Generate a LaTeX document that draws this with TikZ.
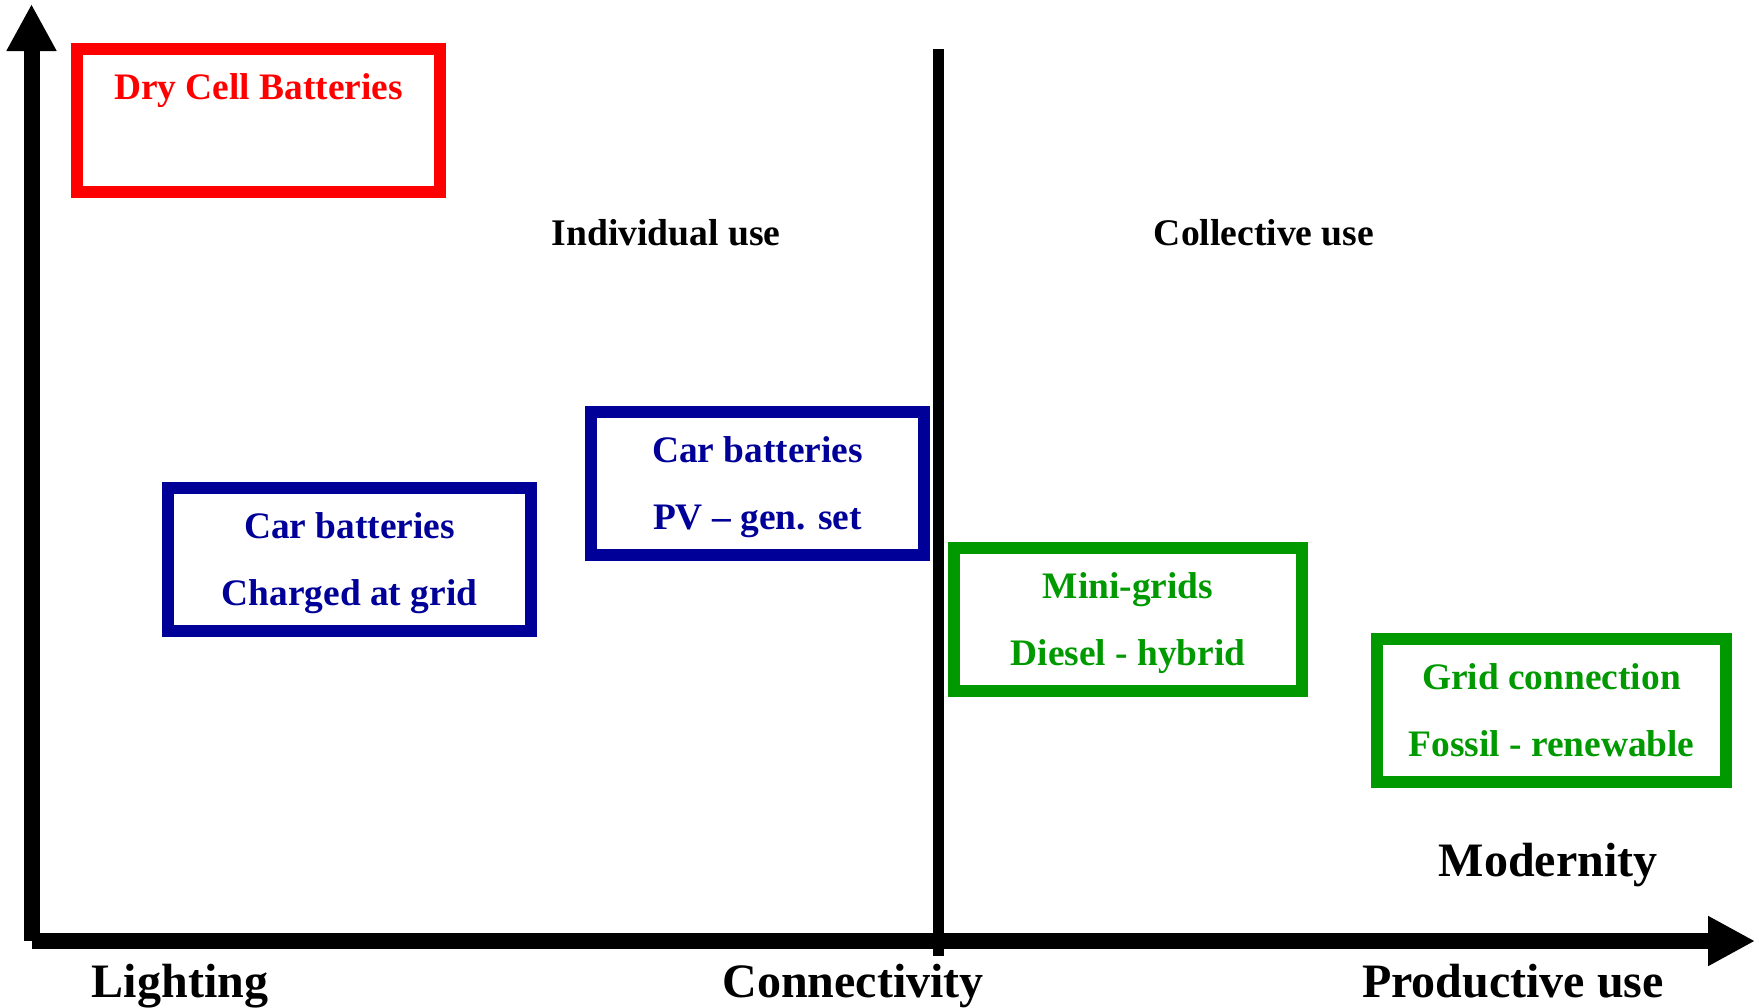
\documentclass[tikz,border=0pt]{standalone}
\usepackage{fontspec}
\setmainfont{Liberation Serif}
\usetikzlibrary{arrows.meta}
\definecolor{drycell}{RGB}{255,0,0}
\definecolor{carblue}{RGB}{0,0,153}
\definecolor{gridgreen}{RGB}{0,153,0}
\begin{document}
\begin{tikzpicture}[x=0.5pt,y=-0.5pt,
    techbox/.style = {draw, line width=6pt, inner sep=0pt, minimum height=71.5pt,
        align=center, text depth=-0.5pt, font=\bfseries\fontsize{18.7}{33.5}\selectfont},
    region/.style = {anchor=base, font=\bfseries\fontsize{18.8}{23}\selectfont},
    axislabel/.style = {anchor=base, font=\bfseries\fontsize{24}{28}\selectfont},
    axis/.style = {line width=8pt, -{Triangle[length=23.5pt,width=23.5pt]}}]

    \useasboundingbox (0,0) rectangle (1759,1007);

    \coordinate (origin) at (31.5,941);
    \coordinate (ytip) at (31.5,4);
    \coordinate (xtip) at (1755,941);
    \coordinate (divtop) at (938,49);
    \coordinate (divbot) at (938,956);

    \draw [axis] (origin) -- (ytip);
    \draw [axis] (origin) -- (xtip);
    \draw [line width=5.5pt] (divbot) -- (divtop);

    \node[techbox, color=drycell, minimum width=181.5pt] (dry) at (258.5,120.5) {Dry Cell Batteries\\\mbox{}};
    \node[techbox, color=carblue, minimum width=181.5pt] (cargrid) at (349.5,559) {Car batteries\\Charged at grid};
    \node[techbox, color=carblue, minimum width=166.5pt] (carpv) at (757.5,483.5) {Car batteries\\PV -- gen. set};
    \node[techbox, color=gridgreen, minimum width=174pt] (mini) at (1128,619.5) {Mini-grids\\Diesel - hybrid};
    \node[techbox, color=gridgreen, minimum width=174.5pt] (gridcon) at (1551.5,710.5) {Grid connection\\Fossil - renewable};

    \node[region] (indiv) at (666,245) {Individual use};
    \node[region] (collect) at (1264,245) {Collective use};

    \node[axislabel] (light) at (180,997) {Lighting};
    \node[axislabel] (connect) at (853,997) {Connectivity};
    \node[axislabel] (product) at (1513,997) {Productive use};
    \node[axislabel] (modern) at (1548,876) {Modernity};
\end{tikzpicture}
\end{document}
